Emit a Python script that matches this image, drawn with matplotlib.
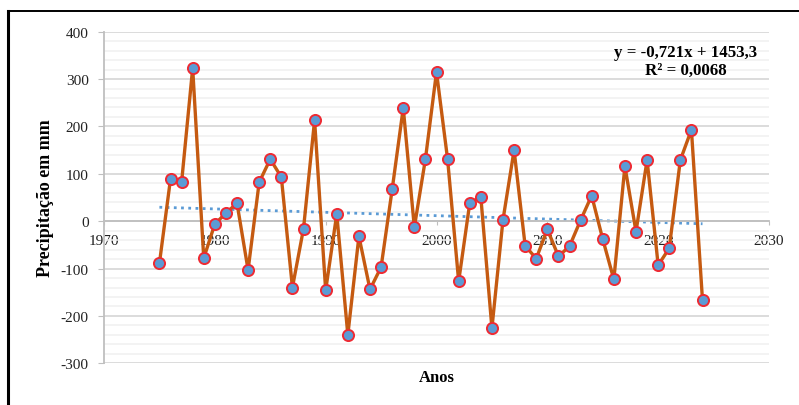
import matplotlib.pyplot as plt
import numpy as np
from matplotlib.ticker import MultipleLocator
from matplotlib.lines import Line2D

plt.rcParams['font.family'] = ['Liberation Serif', 'DejaVu Serif']
plt.rcParams['axes.unicode_minus'] = False

# annual precipitation anomaly (mm)
years = np.arange(1975, 2025)
precip = [-89, 89, 82, 323, -78, -6, 17, 38, -103, 82,
          131, 93, -140, -16, 213, -146, 15, -240, -32, -144,
          -97, 67, 239, -13, 131, 315, 131, -127, 38, 51,
          -226, 3, 150, -52, -79, -17, -74, -53, 2, 54,
          -38, -123, 116, -22, 129, -93, -57, 129, 193, -167]
eq_text = 'y = -0,721x + 1453,3\nR² = 0,0068'
x_ticks = [1970, 1980, 1990, 2000, 2010, 2020, 2030]
y_ticks = [-300, -200, -100, 0, 100, 200, 300, 400]

W, H = 799, 406
fig = plt.figure(figsize=(W / 100, H / 100), dpi=100)
ax = fig.add_axes([104 / W, 1 - 364.3 / H, 665 / W, 331.6 / H])

# linear trend
coef = np.polyfit(years, precip, 1)
ax.plot(years, np.polyval(coef, years), color='#5b9bd5', lw=2, ls=(0, (1, 1.6)), zorder=2)

ax.plot(years, precip, color='#c55a11', lw=2.4, marker='o', markersize=8,
        markerfacecolor='#5b9bd5', markeredgecolor='#ee2a33', markeredgewidth=1.4, zorder=3)

ax.set_xlim(1970, 2030)
ax.set_ylim(-300, 400)
ax.set_xticks(x_ticks)
ax.set_yticks(y_ticks)
ax.yaxis.set_minor_locator(MultipleLocator(20))
ax.grid(which='major', axis='y', color='#d9d9d9', lw=1.3, zorder=0)
ax.grid(which='minor', axis='y', color='#f0f0f0', lw=1.1, zorder=0)
ax.set_axisbelow(True)

for s in ['top', 'right']:
    ax.spines[s].set_visible(False)
ax.spines['bottom'].set_position(('data', 0))
ax.spines['bottom'].set_color('#bfbfbf')
ax.spines['left'].set_color('#bfbfbf')
ax.spines['bottom'].set_linewidth(1.3)
ax.spines['left'].set_linewidth(1.3)
ax.tick_params(axis='x', which='major', length=3, color='#bfbfbf', pad=6, labelsize=11)
ax.tick_params(axis='y', which='major', length=4, color='#bfbfbf', pad=7, labelsize=11)
ax.tick_params(axis='y', which='minor', length=0)
for lab in ax.get_xticklabels() + ax.get_yticklabels():
    lab.set_color('#222222')

ax.set_ylabel('Precipitação em mm', fontsize=13, fontweight='bold', labelpad=5)
fig.text(436.5 / W, 1 - 378 / H, 'Anos', ha='center', va='center', fontsize=12, fontweight='bold')
fig.text(686 / W, 1 - 62 / H, eq_text, ha='center', va='center', fontsize=12.2,
         fontweight='bold', linespacing=1.1)

# frame of the figure box
fig.add_artist(Line2D([7.5 / W, 7.5 / W], [0, 1 - 12 / H], color='black', lw=2.2))
fig.add_artist(Line2D([7.5 / W, 1], [1 - 12 / H, 1 - 12 / H], color='black', lw=1.4))

fig.savefig('out.png', dpi=100)
